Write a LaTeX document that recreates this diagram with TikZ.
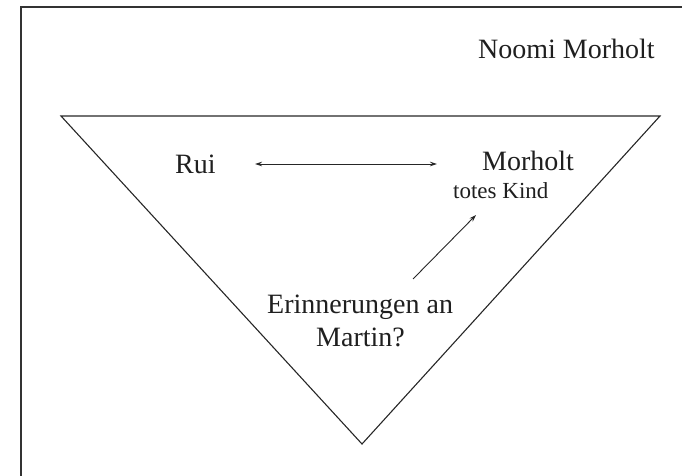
\documentclass[tikz,border=0pt]{standalone}
\usepackage{fontspec}
\setmainfont{Liberation Serif}
\usetikzlibrary{arrows.meta}
\begin{document}
\begin{tikzpicture}[x=1pt,y=-1pt,
  lbl/.style={anchor=base west,inner sep=0pt,text=black!88,font=\fontsize{28}{33}\selectfont},
  small/.style={anchor=base west,inner sep=0pt,text=black!88,font=\fontsize{23}{27}\selectfont},
  edge/.style={line width=1.1pt,draw=black!85,line join=miter},
  conn/.style={line width=0.9pt,draw=black!85,{Stealth[length=7pt,width=4.5pt]}-{Stealth[length=7pt,width=4.5pt]}},
  conn1/.style={line width=0.9pt,draw=black!85,-{Stealth[length=7pt,width=4.5pt]}}]
\useasboundingbox (0,0) rectangle (682,476);
% frame
\coordinate (fb) at (21,476);
\coordinate (ftl) at (21,7);
\coordinate (fr) at (682,7);
\draw[line width=1.5pt,draw=black!80] (fb) -- (ftl) -- (fr);
% triangle
\coordinate (tl) at (61,116);
\coordinate (tr) at (660,116);
\coordinate (tb) at (362,444);
\draw[edge] (tl) -- (tr) -- (tb) -- cycle;
% texts
\node[lbl] (noomi) at (478,59) {Noomi Morholt};
\node[lbl] (rui) at (175,173) {Rui};
\node[lbl] (morholt) at (482,170) {Morholt};
\node[small] (kind) at (453,198) {totes Kind};
\node[lbl] (erin) at (267,313) {Erinnerungen an};
\node[lbl] (martin) at (316,346) {Martin?};
% connectors
\coordinate (a1) at (255,164);
\coordinate (a2) at (437,164);
\draw[conn] (a1) -- (a2);
\coordinate (b1) at (413,279);
\coordinate (b2) at (476,215);
\draw[conn1] (b1) -- (b2);
\end{tikzpicture}
\end{document}
